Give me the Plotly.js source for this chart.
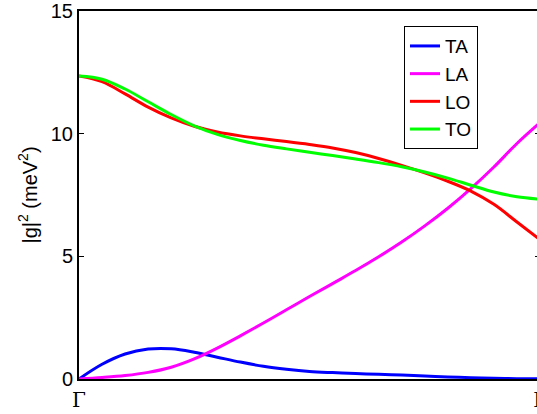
<!DOCTYPE html>
<html>
<head>
<meta charset="utf-8">
<script src="https://cdn.plot.ly/plotly-3.0.1.min.js"></script>
<style>
html,body{margin:0;padding:0;overflow:hidden;background:#fff;}
#chart{width:545px;height:414px;}
</style>
</head>
<body>
<div id="chart"></div>
<script>
const q = [0, 0.05, 0.1, 0.15, 0.2, 0.25, 0.3, 0.35, 0.4, 0.45, 0.5, 0.55, 0.6, 0.65, 0.7, 0.75, 0.8, 0.85, 0.9, 0.95, 1.0];
const TA = [0, 0.6, 1.02, 1.22, 1.23, 1.09, 0.89, 0.69, 0.52, 0.40, 0.31, 0.26, 0.22, 0.19, 0.16, 0.12, 0.085, 0.055, 0.03, 0.015, 0.01];
const LA = [0, 0.06, 0.14, 0.27, 0.48, 0.82, 1.26, 1.76, 2.28, 2.82, 3.36, 3.89, 4.42, 4.98, 5.58, 6.24, 6.96, 7.76, 8.64, 9.6, 10.45];
const LO = [12.35, 12.12, 11.62, 11.08, 10.64, 10.3, 10.07, 9.91, 9.79, 9.68, 9.56, 9.42, 9.23, 8.99, 8.71, 8.4, 8.06, 7.66, 7.12, 6.4, 5.68];
const TO = [12.35, 12.22, 11.82, 11.3, 10.78, 10.32, 9.97, 9.72, 9.53, 9.38, 9.24, 9.11, 8.97, 8.82, 8.65, 8.44, 8.19, 7.9, 7.62, 7.43, 7.33];
const seriesNames = ['TA', 'LA', 'LO', 'TO'];
const seriesColors = ['#0000ff', '#ff00ff', '#ff0000', '#00ff00'];
const xTickVals = [0, 1];
const xTickText = ['Γ', 'L'];
const yTickVals = [0, 5, 10, 15];

const data = [TA, LA, LO, TO].map((ys, i) => ({
  x: q, y: ys, name: seriesNames[i], type: 'scatter', mode: 'lines',
  line: {color: seriesColors[i], width: 3, shape: 'spline', smoothing: 1}
}));

const layout = {
  width: 545, height: 414,
  margin: {l: 79, r: 5, t: 11, b: 35},
  paper_bgcolor: '#fff', plot_bgcolor: '#fff',
  font: {family: 'Liberation Sans, Arial, sans-serif', color: '#000', size: 20},
  showlegend: true,
  legend: {x: 0.705, y: 0.959, xanchor: 'left', yanchor: 'top',
    bordercolor: '#000', borderwidth: 1, bgcolor: '#fff',
    font: {size: 19, family: 'Liberation Sans, Arial, sans-serif'}, tracegroupgap: 0},
  xaxis: {range: [0, 1], tickvals: xTickVals, ticktext: xTickText,
    tickfont: {family: 'DejaVu Serif, Liberation Serif, serif', size: 20},
    ticks: 'inside', ticklen: 5, tickcolor: '#000', showgrid: false, zeroline: false,
    showline: true, linecolor: '#000', linewidth: 2, mirror: 'ticks',
    ticklabelstandoff: 2, ticklabeloverflow: 'allow'},
  yaxis: {range: [0, 15], tickvals: yTickVals, ticks: 'inside', ticklen: 5, tickcolor: '#000',
    showgrid: false, zeroline: false, showline: true, linecolor: '#000', linewidth: 2, mirror: 'ticks',
    tickfont: {size: 20}, ticklabeloverflow: 'allow',
    title: {text: '|g|<sup>2</sup> (meV<sup>2</sup>)', font: {size: 20}, standoff: 8}}
};
Plotly.newPlot('chart', data, layout, {displayModeBar: false, staticPlot: true});
</script>
</body>
</html>
